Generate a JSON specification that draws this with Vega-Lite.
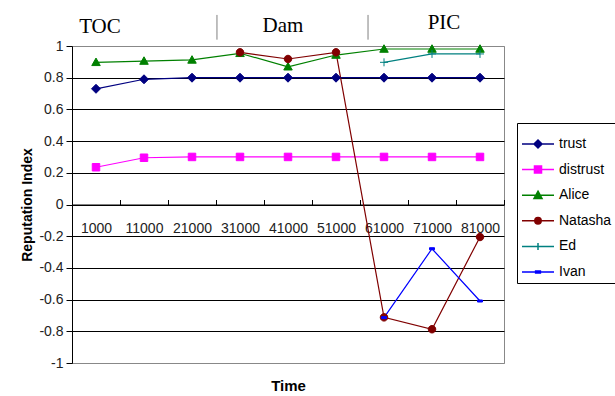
{
  "$schema": "https://vega.github.io/schema/vega-lite/v6.json",
  "width": 432,
  "height": 317,
  "autosize": "none",
  "padding": {"left": 72, "top": 46, "right": 111, "bottom": 33},
  "background": "white",
  "config": {
    "view": {"stroke": "#888888", "strokeWidth": 1},
    "font": "Liberation Sans"
  },
  "datasets": {
    "series": [
      {"series": "trust", "t": "1000", "v": 0.73},
      {"series": "trust", "t": "11000", "v": 0.79},
      {"series": "trust", "t": "21000", "v": 0.8},
      {"series": "trust", "t": "31000", "v": 0.8},
      {"series": "trust", "t": "41000", "v": 0.8},
      {"series": "trust", "t": "51000", "v": 0.8},
      {"series": "trust", "t": "61000", "v": 0.8},
      {"series": "trust", "t": "71000", "v": 0.8},
      {"series": "trust", "t": "81000", "v": 0.8},
      {"series": "distrust", "t": "1000", "v": 0.235},
      {"series": "distrust", "t": "11000", "v": 0.295},
      {"series": "distrust", "t": "21000", "v": 0.3},
      {"series": "distrust", "t": "31000", "v": 0.3},
      {"series": "distrust", "t": "41000", "v": 0.3},
      {"series": "distrust", "t": "51000", "v": 0.3},
      {"series": "distrust", "t": "61000", "v": 0.3},
      {"series": "distrust", "t": "71000", "v": 0.3},
      {"series": "distrust", "t": "81000", "v": 0.3},
      {"series": "Alice", "t": "1000", "v": 0.897},
      {"series": "Alice", "t": "11000", "v": 0.905},
      {"series": "Alice", "t": "21000", "v": 0.912},
      {"series": "Alice", "t": "31000", "v": 0.954},
      {"series": "Alice", "t": "41000", "v": 0.869},
      {"series": "Alice", "t": "51000", "v": 0.943},
      {"series": "Alice", "t": "61000", "v": 0.981},
      {"series": "Alice", "t": "71000", "v": 0.981},
      {"series": "Alice", "t": "81000", "v": 0.981},
      {"series": "Natasha", "t": "31000", "v": 0.96},
      {"series": "Natasha", "t": "41000", "v": 0.918},
      {"series": "Natasha", "t": "51000", "v": 0.96},
      {"series": "Natasha", "t": "61000", "v": -0.712},
      {"series": "Natasha", "t": "71000", "v": -0.787},
      {"series": "Natasha", "t": "81000", "v": -0.205},
      {"series": "Ed", "t": "61000", "v": 0.897},
      {"series": "Ed", "t": "71000", "v": 0.95},
      {"series": "Ed", "t": "81000", "v": 0.95},
      {"series": "Ivan", "t": "61000", "v": -0.714},
      {"series": "Ivan", "t": "71000", "v": -0.279},
      {"series": "Ivan", "t": "81000", "v": -0.609}
    ],
    "phases": [
      {"label": "TOC", "pos": 1.083, "v": 1.082},
      {"label": "Dam", "pos": 4.896, "v": 1.09},
      {"label": "PIC", "pos": 8.25, "v": 1.107}
    ],
    "separators": [
      {"pos": 3.52, "v": 1.04, "v2": 1.196},
      {"pos": 6.667, "v": 1.04, "v2": 1.196}
    ]
  },
  "layer": [
    {
      "data": {"name": "series"},
      "encoding": {
        "x": {
          "field": "t",
          "type": "ordinal",
          "sort": ["1000", "11000", "21000", "31000", "41000", "51000", "61000", "71000", "81000"],
          "scale": {"type": "band", "paddingInner": 0, "paddingOuter": 0},
          "axis": {
            "orient": "bottom",
            "offset": -158.5,
            "title": "Time",
            "titleFontSize": 15,
            "titleFontWeight": "bold",
            "titleColor": "#000000",
            "titlePadding": 143,
            "labelFontSize": 14,
            "labelColor": "#222222",
            "labelAngle": 0,
            "labelOverlap": false,
            "labelPadding": 22,
            "tickBand": "extent",
            "tickSize": -5,
            "tickColor": "#000000",
            "domainColor": "#000000",
            "grid": false
          }
        },
        "y": {
          "field": "v",
          "type": "quantitative",
          "scale": {"domain": [-1, 1], "nice": false, "zero": false},
          "axis": {
            "title": "Reputation Index",
            "titleFontSize": 14,
            "titleFontWeight": "bold",
            "titleColor": "#000000",
            "titlePadding": 4,
            "values": [-1, -0.8, -0.6, -0.4, -0.2, 0, 0.2, 0.4, 0.6, 0.8, 1],
            "tickCount": 20,
            "labelExpr": "'' + datum.value",
            "labelOverlap": false,
            "labelFontSize": 14,
            "labelColor": "#222222",
            "labelPadding": 3,
            "tickSize": 6,
            "tickColor": "#000000",
            "domainColor": "#000000",
            "grid": true,
            "gridColor": {"condition": {"test": "abs(datum.value) == 1", "value": "#888888"}, "value": "#000000"},
            "gridOpacity": 1
          }
        },
        "color": {
          "field": "series",
          "type": "nominal",
          "scale": {
            "domain": ["trust", "distrust", "Alice", "Natasha", "Ed", "Ivan"],
            "range": ["#000080", "#FF00FF", "#008000", "#800000", "#008080", "#0000FF"]
          },
          "legend": {
            "title": null,
            "orient": "none",
            "legendX": 445,
            "legendY": 77,
            "strokeColor": "#000000",
            "fillColor": "#ffffff",
            "padding": 4,
            "labelFontSize": 14,
            "labelColor": "#000000",
            "labelOffset": 4,
            "symbolSize": 1024,
            "rowPadding": 1.6,
            "encode": {
              "symbols": {
                "update": {
                  "shape": {"signal": "datum.value === 'trust' ? 'M-1,0H1M0,-0.25L0.25,0L0,0.25L-0.25,0Z' : datum.value === 'distrust' ? 'M-1,0H1M-0.22,-0.22H0.22V0.22H-0.22Z' : datum.value === 'Alice' ? 'M-1,0H1M0,-0.25L0.25,0.2H-0.25Z' : datum.value === 'Natasha' ? 'M-1,0H1M-0.2,0A0.2,0.2,0,1,1,0.2,0A0.2,0.2,0,1,1,-0.2,0Z' : datum.value === 'Ed' ? 'M-1,0H1M0,-0.22V0.22' : 'M-1,0H1M-0.15,-0.06H0.15V0.06H-0.15Z'"},
                  "fill": {"signal": "scale('color', datum.value)"},
                  "stroke": {"signal": "scale('color', datum.value)"},
                  "strokeWidth": {"value": 1.5},
                  "opacity": {"value": 1},
                  "fillOpacity": {"value": 1}
                }
              }
            }
          }
        }
      },
      "layer": [
        {
          "mark": {"type": "line", "strokeWidth": 1.2}
        },
        {
          "mark": {"type": "point", "filled": true, "size": 100, "opacity": 1, "strokeWidth": 1},
          "encoding": {
            "shape": {
              "condition": [
                {"test": "datum.series === 'trust'", "value": "M0,-0.9L0.9,0L0,0.9L-0.9,0Z"},
                {"test": "datum.series === 'distrust'", "value": "M-0.75,-0.75H0.75V0.75H-0.75Z"},
                {"test": "datum.series === 'Alice'", "value": "M0,-0.85L0.85,0.65H-0.85Z"},
                {"test": "datum.series === 'Natasha'", "value": "M-0.75,0A0.75,0.75,0,1,1,0.75,0A0.75,0.75,0,1,1,-0.75,0Z"},
                {"test": "datum.series === 'Ed'", "value": "M-0.8,0H0.8M0,-0.8V0.8"}
              ],
              "value": "M-0.5,-0.2H0.5V0.2H-0.5Z"
            },
            "stroke": {
              "field": "series",
              "type": "nominal",
              "scale": {
                "domain": ["trust", "distrust", "Alice", "Natasha", "Ed", "Ivan"],
                "range": ["#000080", "#FF00FF", "#008000", "#800000", "#008080", "#0000FF"]
              },
              "legend": null
            }
          }
        }
      ]
    },
    {
      "layer": [
        {
          "data": {"name": "phases"},
          "mark": {"type": "text", "font": "Liberation Serif", "fontSize": 21, "align": "center", "baseline": "alphabetic", "color": "#000000"},
          "encoding": {
            "x": {"field": "pos", "type": "quantitative", "scale": {"domain": [0.5, 9.5], "nice": false, "zero": false}, "axis": null},
            "y": {"field": "v", "type": "quantitative"},
            "text": {"field": "label"}
          }
        },
        {
          "data": {"name": "separators"},
          "mark": {"type": "rule", "color": "#808080", "strokeWidth": 1},
          "encoding": {
            "x": {"field": "pos", "type": "quantitative", "scale": {"domain": [0.5, 9.5], "nice": false, "zero": false}, "axis": null},
            "y": {"field": "v", "type": "quantitative"},
            "y2": {"field": "v2"}
          }
        }
      ]
    }
  ],
  "resolve": {"scale": {"x": "independent"}}
}
